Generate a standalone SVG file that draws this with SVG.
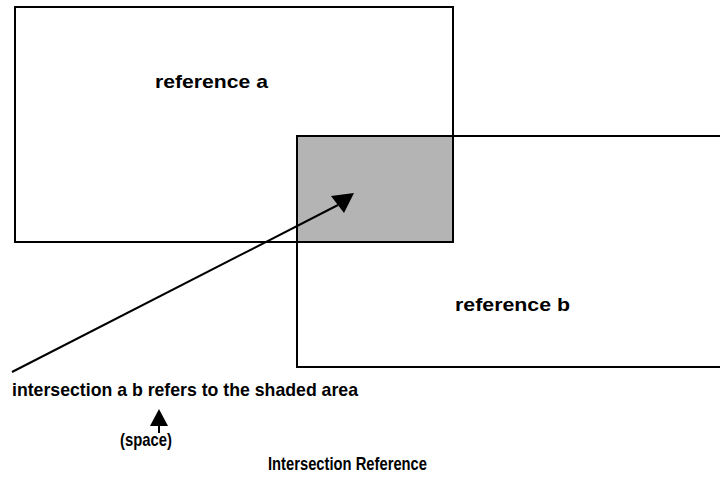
<svg xmlns="http://www.w3.org/2000/svg" width="720" height="489" viewBox="0 0 720 489">
  <style>
    .box { fill: none; stroke: #000; stroke-width: 2; }
    .shade { fill: #b4b4b4; stroke: none; }
    .lbl { font-family: "Liberation Sans", Arial, sans-serif; font-weight: bold; font-size: 18.5px; fill: #000; }
    .conn { stroke: #000; stroke-width: 2; fill: none; }
  </style>
  <rect width="720" height="489" fill="#fff"/>
  <g id="shaded-area">
    <rect class="shade" x="297" y="136" width="156" height="106"/>
  </g>
  <g id="reference-a">
    <rect class="box" x="15" y="7" width="438" height="235"/>
    <text class="lbl" x="155" y="88" textLength="113" lengthAdjust="spacingAndGlyphs">reference a</text>
  </g>
  <g id="reference-b">
    <path class="box" d="M720,136 H297 V367 H720"/>
    <text class="lbl" x="455" y="311" textLength="115" lengthAdjust="spacingAndGlyphs">reference b</text>
  </g>
  <g id="connectors">
    <line class="conn" x1="12" y1="372" x2="338" y2="205"/>
    <polygon points="331,196 354,193 344,213" fill="#000"/>
    <line class="conn" x1="159" y1="422" x2="159" y2="433"/>
    <polygon points="159,409 150,426 168,426" fill="#000"/>
  </g>
  <g id="caption">
    <text class="lbl" x="12" y="396" textLength="346" lengthAdjust="spacingAndGlyphs">intersection a b refers to the shaded area</text>
    <text class="lbl" x="120" y="446" textLength="52" lengthAdjust="spacingAndGlyphs">(space)</text>
    <text class="lbl" x="268" y="470" textLength="159" lengthAdjust="spacingAndGlyphs">Intersection Reference</text>
  </g>
</svg>
